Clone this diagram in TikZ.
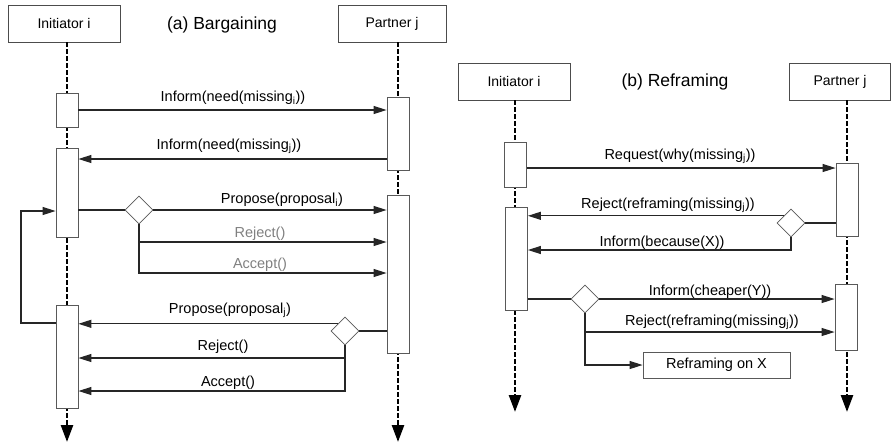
\documentclass[tikz,border=0pt]{standalone}
\usepackage{fontspec}
\setmainfont{Liberation Sans}
\usetikzlibrary{shapes.geometric,arrows.meta}
\begin{document}
\begin{tikzpicture}[x=1pt,y=-1pt,
  actor/.style={draw=black!70,line width=0.8pt,fill=white,minimum height=37pt,inner sep=0pt,font=\fontsize{14}{16}\selectfont},
  act/.style={draw=black!65,line width=0.8pt,fill=white,minimum width=22pt,inner sep=0pt},
  lifeline/.style={line width=2.6pt,dash pattern=on 4.5pt off 2.5pt,-{Triangle[length=17pt,width=12pt]}},
  msg/.style={draw=black!85,line width=1.1pt,-{Triangle[length=13pt,width=8pt]}},
  link/.style={draw=black!85,line width=1.1pt},
  dec/.style={diamond,draw=black!65,line width=0.8pt,fill=white,minimum width=28pt,minimum height=28pt,inner sep=0pt},
  lbl/.style={font=\fontsize{14.5}{16}\selectfont,inner sep=0pt},
  glbl/.style={lbl,text=black!50},
  title/.style={font=\fontsize{17.5}{20}\selectfont,inner sep=0pt}]
\useasboundingbox (0,0) rectangle (891,445);
% ---------- (a) Bargaining ----------
\node[actor,minimum width=112pt] (A1) at (64,23.5) {Initiator i};
\node[actor,minimum width=108pt] (B1) at (392,23.5) {Partner j};
\node[title] (ta) at (222,25) {(a) Bargaining};
\coordinate (ilTop) at (67,42);
\coordinate (ilBot) at (67,442);
\coordinate (plTop) at (398,42);
\coordinate (plBot) at (398,442);
\draw[lifeline] (ilTop) -- (ilBot);
\draw[lifeline] (plTop) -- (plBot);
\node[act,minimum height=34pt] (ia1) at (67,110) {};
\node[act,minimum height=89pt] (ia2) at (67,192.5) {};
\node[act,minimum height=103pt] (ia3) at (67,356.5) {};
\node[act,minimum height=73pt] (pa1) at (398,133.5) {};
\node[act,minimum height=158pt] (pa2) at (398,274) {};
\node[dec] (d1) at (139,210) {};
\node[dec] (d2) at (345,331) {};
% messages
\draw[msg] (ia1.east |- 0,110) -- (pa1.west |- 0,110);
\node[lbl] (l1) at (233,98) {Inform(need(missing\textsubscript{i}))};
\draw[msg] (pa1.west |- 0,159) -- (ia2.east |- 0,159);
\node[lbl] (l2) at (229,146) {Inform(need(missing\textsubscript{j}))};
\draw[link] (ia2.east |- d1) -- (d1.west);
\draw[msg] (d1.east) -- (pa2.west |- d1);
\node[lbl] (l3) at (282,200) {Propose(proposal\textsubscript{i})};
\draw[msg] (d1.south) |- (pa2.west |- 0,242);
\node[glbl] (l4) at (260,233.5) {Reject()};
\draw[msg] (d1.south) |- (pa2.west |- 0,273);
\node[glbl] (l5) at (260,265) {Accept()};
% loop back
\coordinate (lpA) at (21,323);
\coordinate (lpB) at (21,211);
\draw[msg] (ia3.west |- lpA) -- (lpA) -- (lpB) -- (ia2.west |- lpB);
% partner proposal
\draw[link] (pa2.west |- d2) -- (d2.east);
\draw[msg] (d2.north west) -- (ia3.east |- d2.north west);
\node[lbl] (l6) at (230,310) {Propose(proposal\textsubscript{j})};
\draw[msg] (d2.south) |- (ia3.east |- 0,358);
\node[lbl] (l7) at (223,346.5) {Reject()};
\draw[msg] (d2.south) |- (ia3.east |- 0,391);
\node[lbl] (l8) at (228,383) {Accept()};
% ---------- (b) Reframing ----------
\node[actor,minimum width=112pt] (A2) at (514,81.5) {Initiator i};
\node[actor,minimum width=101pt] (B2) at (840,81.5) {Partner j};
\node[title] (tb) at (675,82) {(b) Reframing};
\coordinate (il2Top) at (515,100);
\coordinate (il2Bot) at (515,412);
\coordinate (pl2Top) at (847,100);
\coordinate (pl2Bot) at (847,412);
\draw[lifeline] (il2Top) -- (il2Bot);
\draw[lifeline] (pl2Top) -- (pl2Bot);
\node[act,minimum height=45pt] (ib1) at (515.5,164.5) {};
\node[act,minimum height=103pt] (ib2) at (516.5,258.5) {};
\node[act,minimum height=73pt] (pb1) at (847,199.5) {};
\node[act,minimum height=66pt] (pb2) at (846,317) {};
\node[dec] (d3) at (791,223) {};
\node[dec] (d4) at (585,299) {};
\node[draw=black!65,line width=0.8pt,minimum width=147pt,minimum height=26pt,inner sep=0pt,font=\fontsize{14.5}{16}\selectfont] (rx) at (716.5,365) {Reframing on X};
\draw[msg] (ib1.east |- 0,168) -- (pb1.west |- 0,168);
\node[lbl] (r1) at (680,156.5) {Request(why(missing\textsubscript{j}))};
\draw[link] (pb1.west |- d3) -- (d3.east);
\draw[msg] (d3.north west) -- (ib2.east |- d3.north west);
\node[lbl] (r2) at (668,205) {Reject(reframing(missing\textsubscript{j}))};
\draw[msg] (d3.south) |- (ib2.east |- 0,250);
\node[lbl] (r3) at (662,242.5) {Inform(because(X))};
\draw[link] (ib2.east |- d4) -- (d4.west);
\draw[msg] (d4.east) -- (pb2.west |- d4);
\node[lbl] (r4) at (710,291.5) {Inform(cheaper(Y))};
\draw[msg] (d4.south) |- (pb2.west |- 0,332);
\node[lbl] (r5) at (712,322.5) {Reject(reframing(missing\textsubscript{j}))};
\draw[msg] (d4.south) |- (rx.west);
\end{tikzpicture}
\end{document}
